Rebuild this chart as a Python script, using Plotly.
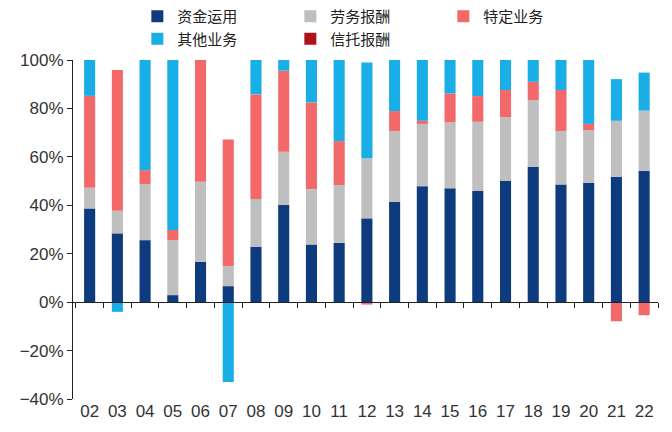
import plotly.graph_objects as go

years = ["02","03","04","05","06","07","08","09","10","11","12",
         "13","14","15","16","17","18","19","20","21","22"]

# shares (%) by business line
fund_use   = [38.7,28.4,25.6,2.9,16.7,6.6,22.9,40.1,23.8,24.5,34.6,41.5,47.9,47.0,45.9,50.0,55.9,48.6,49.3,51.8,54.3]
service    = [8.5,9.3,23.2,22.7,33.0,8.3,19.7,22.0,22.9,23.8,24.8,29.2,25.7,27.2,28.6,26.3,27.6,22.1,21.8,23.1,24.8]
specific   = [38.0,58.2,5.7,4.2,50.3,52.3,43.2,33.5,35.8,18.2,-1.0,8.2,1.3,12.0,10.6,11.3,7.5,16.9,2.5,-7.9,-5.4]
other      = [14.8,-4.0,45.5,70.2,0.0,-33.0,14.2,4.4,17.5,33.5,39.6,21.1,25.1,13.8,14.9,12.4,9.0,12.4,26.4,17.2,15.7]
trust_fee  = [0.0]*21

series = [
    ("资金运用", fund_use, "#0D3B7D"),
    ("劳务报酬", service, "#BFBFBF"),
    ("特定业务", specific, "#F36868"),
    ("其他业务", other, "#19AEE6"),
    ("信托报酬", trust_fee, "#B0101C"),
]

fig = go.Figure()
for name, vals, color in series:
    fig.add_trace(go.Bar(x=years, y=vals, name=name, marker_color=color,
                         marker_line_width=0, width=0.4))

# invisible helper trace for zero-line axis
fig.add_trace(go.Scatter(x=[0], y=[0], xaxis="x2", yaxis="y", mode="markers",
                         marker_opacity=0, showlegend=False, hoverinfo="skip"))

axis_font = dict(family="Liberation Sans, Arial", size=17, color="#333333")

fig.update_layout(
    width=672, height=432,
    margin=dict(l=73, r=14, t=60, b=33, autoexpand=False),
    plot_bgcolor="white", paper_bgcolor="white",
    barmode="relative", bargap=0.6,
    showlegend=True,
    legend=dict(orientation="h", x=0.11, xanchor="left", y=1.0, yanchor="top",
                yref="container", entrywidth=108, entrywidthmode="pixels",
                font=dict(family="Noto Sans CJK SC", size=15, color="#222222"),
                itemwidth=30, tracegroupgap=0, traceorder="normal"),
    xaxis=dict(type="category", range=[-0.6, 20.5], showline=False, ticks="",
               showgrid=False, zeroline=False, tickfont=axis_font),
    xaxis2=dict(type="linear", overlaying="x", anchor="free", position=40/140,
                range=[-0.6, 20.5], showline=True, linecolor="#222222", linewidth=1,
                ticks="outside", ticklen=5, tickcolor="#222222", tick0=-0.5, dtick=1,
                showticklabels=False, showgrid=False, zeroline=False),
    yaxis=dict(range=[-40, 100], dtick=20, ticksuffix="%", showgrid=False,
               zeroline=False, showline=True, linecolor="#222222", linewidth=1,
               ticks="outside", ticklen=5, tickcolor="#222222", tickfont=axis_font),
)

fig.write_html("out.html", config={"displayModeBar": False},
               post_script="document.body.style.margin='0px';")
